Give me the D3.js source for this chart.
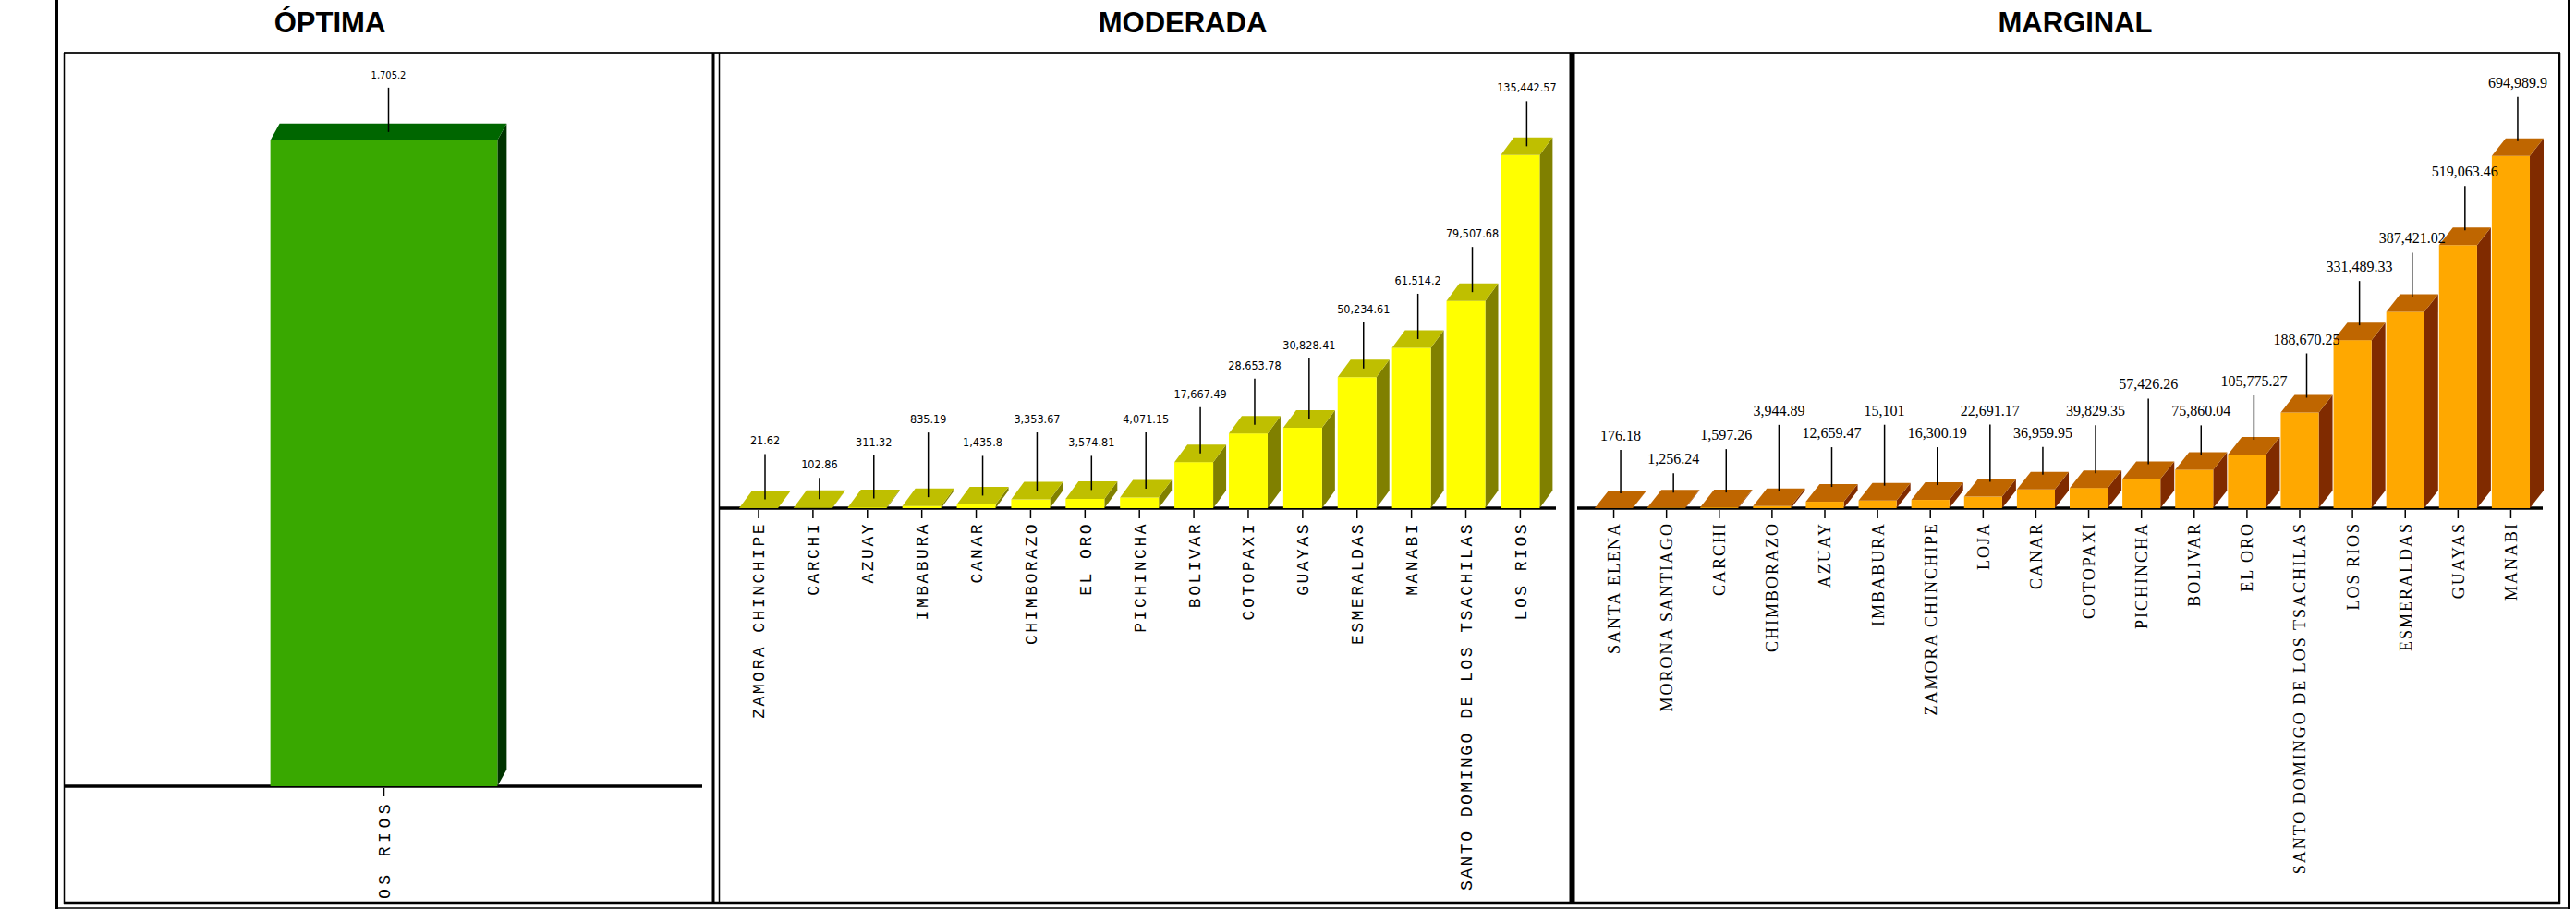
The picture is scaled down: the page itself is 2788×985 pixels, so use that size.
<!DOCTYPE html>
<html><head><meta charset="utf-8">
<script src="https://cdn.jsdelivr.net/npm/d3@7"></script>
<style>body{margin:0;background:#fff;} svg{display:block}</style>
</head><body><svg id="c" width="2788" height="985"></svg>
<script>
// ---------- DATA ----------
const titles = ["ÓPTIMA", "MODERADA", "MARGINAL"];

const optCats = ["LOS RIOS"];
const optVals = [1705.2];

const modCats = ["ZAMORA CHINCHIPE", "CARCHI", "AZUAY", "IMBABURA", "CANAR", "CHIMBORAZO", "EL ORO",
  "PICHINCHA", "BOLIVAR", "COTOPAXI", "GUAYAS", "ESMERALDAS", "MANABI",
  "SANTO DOMINGO DE LOS TSACHILAS", "LOS RIOS"];
const modVals = [21.62, 102.86, 311.32, 835.19, 1435.8, 3353.67, 3574.81, 4071.15, 17667.49,
  28653.78, 30828.41, 50234.61, 61514.2, 79507.68, 135442.57];

const marCats = ["SANTA ELENA", "MORONA SANTIAGO", "CARCHI", "CHIMBORAZO", "AZUAY", "IMBABURA",
  "ZAMORA CHINCHIPE", "LOJA", "CANAR", "COTOPAXI", "PICHINCHA", "BOLIVAR", "EL ORO",
  "SANTO DOMINGO DE LOS TSACHILAS", "LOS RIOS", "ESMERALDAS", "GUAYAS", "MANABI"];
const marVals = [176.18, 1256.24, 1597.26, 3944.89, 12659.47, 15101, 16300.19, 22691.17, 36959.95,
  39829.35, 57426.26, 75860.04, 105775.27, 188670.25, 331489.33, 387421.02, 519063.46, 694989.9];

// ---------- LAYOUT (label leader lengths, px) ----------
const optLeader = [48];
const modLeader = [49, 23, 47, 70, 43, 63, 37, 61, 50, 50, 66, 50, 49, 49, 49];
const marLeader = [47, 21, 47, 72, 43, 66, 41, 62, 30, 52, 71, 32, 48, 48, 48, 48, 48, 48];

const fmt = d3.format(",");
const svg = d3.select("#c");
svg.append("rect").attr("width", 2788).attr("height", 985).attr("fill", "#fff");

const panels = [
  { title: titles[0], titleX: 357, cats: optCats, vals: optVals, leaders: optLeader,
    box: [69, 772], xr: [69, 762], pi: 0, po: 0.91, base: 851, ymax: 1800, ytop: 113,
    dx: 10, dy: 18, front: "#39A800", topc: "#006600", side: "#003300",
    lineEnd: 9, lblFont: "'DejaVu Sans Condensed','DejaVu Sans',sans-serif", lblSize: 11, lblStretch: "condensed",
    catFont: "'Liberation Mono','Courier New',monospace", catSize: 18, catSpacing: 4.5, baseX: [69, 760] },
  { title: titles[1], titleX: 1280, cats: modCats, vals: modVals, leaders: modLeader,
    box: [778, 1699], xr: [779.4, 1687], pi: 0.287, po: 0.35, base: 550, ymax: 140000, ytop: 155,
    dx: 14, dy: 19, front: "#FFFF00", topc: "#BFBF00", side: "#808000",
    lineEnd: 9.5, lblFont: "'DejaVu Sans Condensed','DejaVu Sans',sans-serif", lblSize: 12.5, lblStretch: "condensed",
    catFont: "'Liberation Mono','Courier New',monospace", catSize: 18, catSpacing: 2.5, baseX: [779, 1684] },
  { title: titles[2], titleX: 2246, cats: marCats, vals: marVals, leaders: marLeader,
    box: [1704, 2770], xr: [1706, 2758], pi: 0.28, po: 0.35, base: 550, ymax: 700000, ytop: 166,
    dx: 15, dy: 19, front: "#FFA800", topc: "#BF6600", side: "#802B00",
    lineEnd: 16, lblFont: "'Liberation Serif','Times New Roman',serif", lblSize: 16, lblStretch: "normal",
    catFont: "'Liberation Serif','Times New Roman',serif", catSize: 18, catSpacing: 2, baseX: [1707, 2752] }
];

panels.forEach((p, pi) => {
  // title
  svg.append("text").attr("x", p.titleX).attr("y", 35).attr("text-anchor", "middle")
    .attr("font-family", "'Liberation Sans',Arial,sans-serif").attr("font-weight", "bold")
    .attr("font-size", 31).attr("fill", "#000").text(p.title);

  const clipId = "clip" + pi;
  svg.append("clipPath").attr("id", clipId).append("rect")
    .attr("x", p.box[0]).attr("y", 58).attr("width", p.box[1] - p.box[0]).attr("height", 918);
  const g = svg.append("g").attr("clip-path", `url(#${clipId})`);

  const x = d3.scaleBand().domain(p.cats).range(p.xr).paddingInner(p.pi).paddingOuter(p.po);
  const y = d3.scaleLinear().domain([0, p.ymax]).range([p.base, p.ytop]);
  const bw = x.bandwidth();

  // baseline
  g.append("line").attr("x1", p.baseX[0]).attr("x2", p.baseX[1]).attr("y1", p.base).attr("y2", p.base)
    .attr("stroke", "#000").attr("stroke-width", 3.5);

  const data = p.cats.map((c, i) => ({ c, v: p.vals[i], L: p.leaders[i] }));
  const bars = g.selectAll("g.bar").data(data).join("g").attr("class", "bar");
  const dx = p.dx, dy = p.dy;
  // side face
  bars.append("path").attr("fill", p.side).attr("d", d => {
    const x0 = x(d.c) + bw, t = y(d.v), b = p.base;
    return `M${x0},${t}L${x0 + dx},${t - dy}L${x0 + dx},${b - dy}L${x0},${b}Z`;
  });
  // front
  bars.append("rect").attr("fill", p.front)
    .attr("x", d => x(d.c)).attr("width", bw)
    .attr("y", d => y(d.v)).attr("height", d => p.base - y(d.v));
  // top face
  bars.append("path").attr("fill", p.topc).attr("d", d => {
    const x0 = x(d.c), t = y(d.v);
    return `M${x0},${t}L${x0 + dx},${t - dy}L${x0 + bw + dx},${t - dy}L${x0 + bw},${t}Z`;
  });

  // ticks
  g.selectAll("line.tick").data(data).join("line").attr("class", "tick")
    .attr("x1", d => x(d.c) + bw / 2).attr("x2", d => x(d.c) + bw / 2)
    .attr("y1", p.base + 2).attr("y2", p.base + 11).attr("stroke", "#000").attr("stroke-width", 1.5);

  // category labels (rotated)
  g.selectAll("text.cat").data(data).join("text").attr("class", "cat")
    .attr("transform", d => `translate(${x(d.c) + bw / 2},${p.base + 15}) rotate(-90)`)
    .attr("text-anchor", "end").attr("dy", "0.36em")
    .attr("font-family", p.catFont).attr("font-size", p.catSize)
    .attr("letter-spacing", p.catSpacing).attr("fill", "#000")
    .text(d => d.c);

  // leaders + value labels
  const lx = d => x(d.c) + bw / 2 + dx / 2;
  const lb = d => y(d.v) - p.lineEnd;
  g.selectAll("line.lead").data(data).join("line").attr("class", "lead")
    .attr("x1", lx).attr("x2", lx)
    .attr("y1", lb).attr("y2", d => lb(d) - d.L)
    .attr("stroke", "#000").attr("stroke-width", 1.5);
  g.selectAll("text.val").data(data).join("text").attr("class", "val")
    .attr("x", lx).attr("y", d => lb(d) - d.L - 10)
    .attr("text-anchor", "middle")
    .attr("font-family", p.lblFont).attr("font-size", p.lblSize)
    .attr("font-stretch", p.lblStretch).attr("fill", "#000")
    .text(d => fmt(d.v));
});

// ---------- FRAMES ----------
const fr = svg.append("g").attr("fill", "none");
function ln(x1, y1, x2, y2, w, c) {
  fr.append("line").attr("x1", x1).attr("y1", y1).attr("x2", x2).attr("y2", y2)
    .attr("stroke", c || "#000").attr("stroke-width", w);
}
ln(61.5, 0, 61.5, 984, 3);          // outer left
ln(2780.5, 0, 2780.5, 984, 3);      // outer right
ln(60, 983, 2782, 983, 1.5);        // outer bottom
ln(69, 57, 2771, 57, 2, "#222");    // panel top
ln(69, 977.5, 2771, 977.5, 3.5);    // panel bottom
ln(69.5, 57, 69.5, 978, 1.5);       // optima left
ln(772, 57, 772, 978, 3);           // optima right
ln(778.5, 57, 778.5, 978, 1.5);     // moderada left
ln(1701.5, 57, 1701.5, 978, 6);     // moderada/marginal separator
ln(2770, 57, 2770, 978, 2.5);       // marginal right
</script>
</body></html>
